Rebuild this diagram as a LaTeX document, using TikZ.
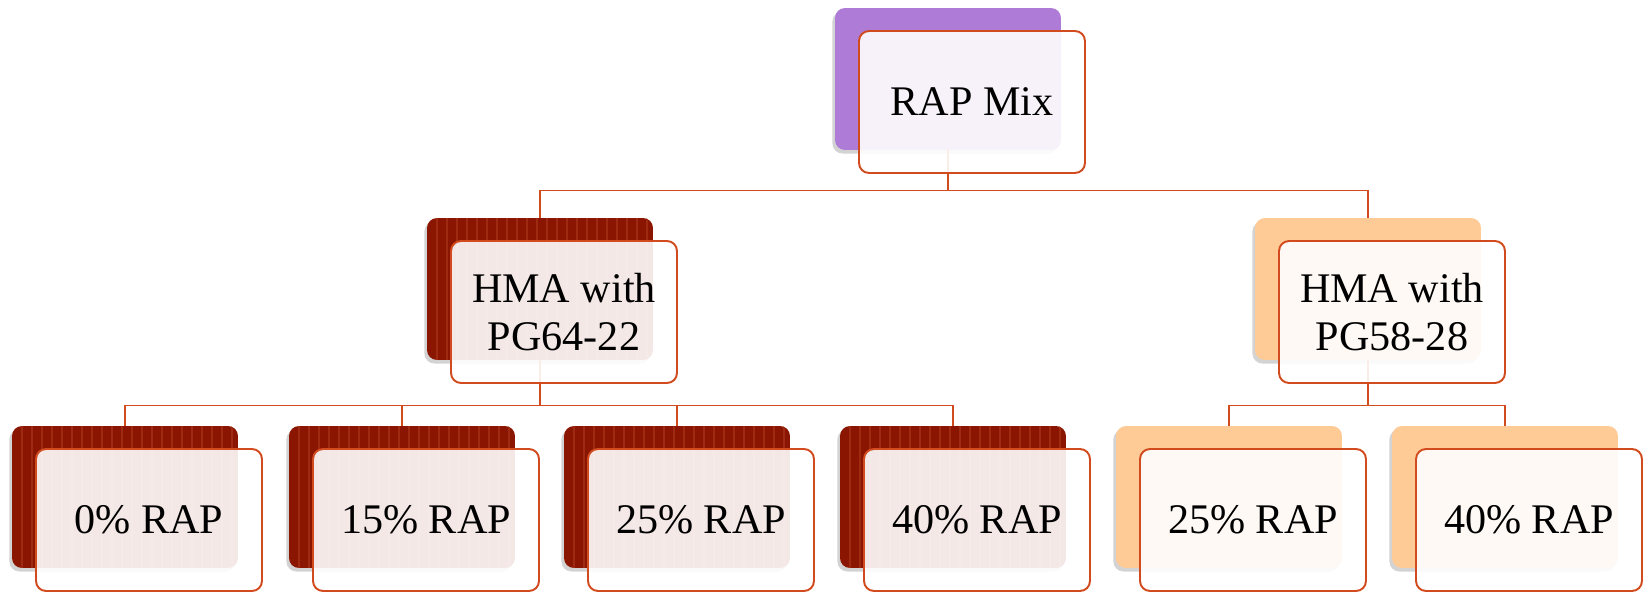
\documentclass[tikz,border=0pt]{standalone}
\usepackage{fontspec}
\setmainfont{Liberation Serif}
\usetikzlibrary{positioning,shadows}

\definecolor{linkred}{HTML}{D24B1E}
\definecolor{lilac}{HTML}{AE7BD6}
\definecolor{brick}{HTML}{8A1500}
\definecolor{brickline}{HTML}{9E2A12}
\definecolor{peach}{HTML}{FECB97}

\begin{document}
\begin{tikzpicture}[x=0.02cm, y=-0.02cm,
            back/.style={rounded corners=0.2cm, minimum width=4.52cm, minimum height=2.84cm, inner sep=0pt,
                drop shadow={shadow xshift=-1.5pt, shadow yshift=-2pt, opacity=.35}},
            striped/.style={back, fill=brick,
                path picture={\foreach \k in {1,...,23}
                    \draw[brickline, line width=1.6pt] ([xshift=\k*0.2cm]path picture bounding box.north west)
                        -- ([xshift=\k*0.2cm]path picture bounding box.south west);}},
            front/.style={draw=linkred, line width=1.1pt, fill=white, fill opacity=.9, text opacity=1,
                rounded corners=0.2cm, minimum width=4.52cm, minimum height=2.84cm, align=center,
                font=\fontsize{24}{27}\selectfont, xshift=0.48cm, yshift=-0.46cm},
            link/.style={draw=linkred, line width=0.8pt}]
        \useasboundingbox (0,0) rectangle (1647,592);

        % back plates
        \node[back, fill=lilac] (mix) at (948,79) {};
        \node[striped] (hma1) at (540,289) {};
        \node[back, fill=peach] (hma2) at (1368,289) {};
        \foreach \name/\x in {p0/125, p15/402, p25/677, p40/953}
            \node[striped] (\name) at (\x,497) {};
        \foreach \name/\x in {q25/1229, q40/1505}
            \node[back, fill=peach] (\name) at (\x,497) {};

        % connectors
        \draw[link] (mix.south) -- ++(0,40) -| (hma1.north);
        \draw[link] (mix.south) -- ++(0,40) -| (hma2.north);
        \foreach \name in {p0, p15, p25, p40}
            \draw[link] (hma1.south) -- ++(0,45) -| (\name.north);
        \foreach \name in {q25, q40}
            \draw[link] (hma2.south) -- ++(0,45) -| (\name.north);

        % front cards
        \node[front] (mixf) at (mix) {RAP Mix};
        \node[front] (hma1f) at (hma1) {HMA with\\PG64-22};
        \node[front] (hma2f) at (hma2) {HMA with\\PG58-28};
        \node[front] (p0f) at (p0) {0\% RAP};
        \node[front] (p15f) at (p15) {15\% RAP};
        \node[front] (p25f) at (p25) {25\% RAP};
        \node[front] (p40f) at (p40) {40\% RAP};
        \node[front] (q25f) at (q25) {25\% RAP};
        \node[front] (q40f) at (q40) {40\% RAP};
\end{tikzpicture}
\end{document}
